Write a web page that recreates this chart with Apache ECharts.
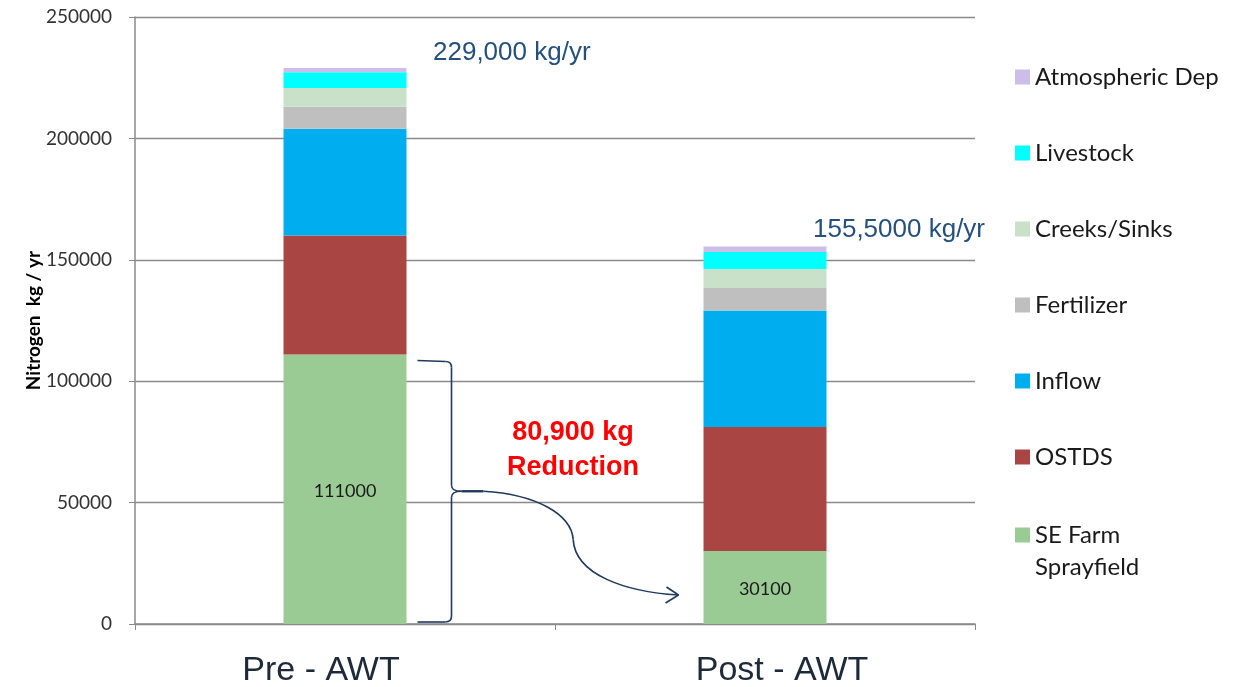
<!DOCTYPE html>
<html>
<head>
<meta charset="utf-8">
<title>Nitrogen loading, Pre- and Post-AWT</title>
<script src="https://cdn.jsdelivr.net/npm/echarts@6/dist/echarts.min.js"></script>
<style>
  html, body { margin: 0; padding: 0; background: #ffffff; }
  #chart { width: 1246px; height: 687px; }
</style>
</head>
<body>
<div id="chart"></div>
<script>
// Nitrogen sources (kg / yr), stacked bottom to top
const categories = ['Pre - AWT', 'Post - AWT'];
const seFarmSprayfield = [111000, 30100];
const ostds = [49000, 51000];
const inflow = [44000, 48000];
const fertilizer = [9000, 9300];
const creeksSinks = [7800, 7800];
const livestock = [6400, 7000];
const atmosphericDep = [1800, 2300];
const totalLabels = ['229,000 kg/yr', '155,5000 kg/yr'];
const reductionText = ['80,900 kg', 'Reduction'];
const yTicks = { min: 0, max: 250000, interval: 50000 };

const BAR_WIDTH = 123;
const GRID_COLOR = '#8a8a8a';
const NOTE_COLOR = '#1f3a5c';

const seriesDefs = [
  { name: 'SE Farm Sprayfield', data: seFarmSprayfield, color: '#9bcb95', label: true },
  { name: 'OSTDS', data: ostds, color: '#a94643' },
  { name: 'Inflow', data: inflow, color: '#00aeef' },
  { name: 'Fertilizer', data: fertilizer, color: '#bfbfbf' },
  { name: 'Creeks/Sinks', data: creeksSinks, color: '#c9e1c9' },
  { name: 'Livestock', data: livestock, color: '#00ffff' },
  { name: 'Atmospheric Dep', data: atmosphericDep, color: '#cdbde9' }
];

const chart = echarts.init(document.getElementById('chart'), null, { renderer: 'canvas' });

const legendText = { fontFamily: 'Lato', fontSize: 24, color: '#1a1a1a', lineHeight: 32 };
const legendBase = {
  orient: 'vertical',
  left: 1015,
  padding: 0,
  itemWidth: 15,
  itemHeight: 15,
  itemGap: 44,
  icon: 'rect',
  selectedMode: false
};
const legendNames = seriesDefs.slice().reverse().map(s => s.name);

const option = {
  animation: false,
  backgroundColor: '#ffffff',
  grid: { left: 135, right: 271, top: 17, bottom: 63, outerBoundsMode: 'none' },
  legend: [
    Object.assign({}, legendBase, {
      top: 61,
      data: legendNames.filter(n => n !== 'SE Farm Sprayfield'),
      textStyle: legendText
    }),
    // two-line entry; the leading empty line keeps the icon level with "SE Farm"
    Object.assign({}, legendBase, {
      top: 487,
      data: ['SE Farm Sprayfield'],
      formatter: () => '\nSE Farm\nSprayfield',
      textStyle: legendText
    })
  ],
  xAxis: {
    type: 'category',
    data: categories,
    axisLine: { show: true, lineStyle: { color: GRID_COLOR, width: 1.5 } },
    axisTick: { show: true, length: 6, lineStyle: { color: GRID_COLOR } },
    axisLabel: {
      margin: 30,
      formatter: (value, index) => '{c' + index + '|' + value + '}',
      rich: {
        c0: { fontFamily: 'Liberation Sans', fontSize: 34, color: '#1e2a3a', padding: [0, 48, 0, 0] },
        c1: { fontFamily: 'Liberation Sans', fontSize: 34, color: '#1e2a3a', padding: [0, 0, 0, 34] }
      }
    }
  },
  yAxis: {
    type: 'value',
    min: yTicks.min,
    max: yTicks.max,
    interval: yTicks.interval,
    name: 'Nitrogen  kg / yr',
    nameLocation: 'middle',
    nameRotate: 90,
    nameGap: 92,
    nameMoveOverlap: false,
    nameTextStyle: { fontFamily: 'Lato', fontWeight: 'bold', fontSize: 19, color: '#000000' },
    axisLine: { show: true, lineStyle: { color: GRID_COLOR, width: 1.5 } },
    axisTick: { show: true, length: 6, lineStyle: { color: GRID_COLOR } },
    axisLabel: {
      fontFamily: 'Lato', fontSize: 19, color: '#333333', margin: 23,
      formatter: v => String(v)
    },
    splitLine: { show: true, lineStyle: { color: GRID_COLOR, width: 1.3 } }
  },
  series: seriesDefs.map(s => ({
    name: s.name,
    type: 'bar',
    stack: 'nitrogen',
    barWidth: BAR_WIDTH,
    data: s.data,
    itemStyle: { color: s.color },
    label: s.label
      ? { show: true, position: 'inside', offset: [0, 2], fontFamily: 'Lato', fontSize: 18, color: '#1a1a1a' }
      : { show: false }
  }))
};

chart.setOption(option);

// Annotations placed from axis coordinates
function px(cat, value) {
  return chart.convertToPixel({ seriesIndex: 0 }, [cat, value]);
}

const totals = categories.map((_, i) =>
  seriesDefs.reduce((sum, s) => sum + s.data[i], 0)
);

const graphics = [];

// Total labels above each stack
const totalOffsets = [[88, -15], [48, -17]];
totals.forEach((t, i) => {
  const p = px(i, t);
  graphics.push({
    type: 'text',
    x: p[0] + totalOffsets[i][0],
    y: p[1] + totalOffsets[i][1],
    style: {
      text: totalLabels[i],
      fill: '#25507e',
      fontFamily: 'Liberation Sans',
      fontSize: 26,
      align: 'left',
      verticalAlign: 'middle'
    }
  });
});

// Reduction note between the bars
const midX = (px(0, 0)[0] + px(1, 0)[0]) / 2;
const noteY = px(0, 80900)[1];
graphics.push({
  type: 'text',
  x: midX + 18,
  y: noteY + 22,
  style: {
    text: reductionText.join('\n'),
    fill: '#ff0000',
    fontFamily: 'Liberation Sans',
    fontWeight: 'bold',
    fontSize: 27,
    lineHeight: 35,
    align: 'center',
    verticalAlign: 'middle'
  }
});

// Curly brace alongside the Pre-AWT sprayfield segment
const preRight = px(0, 0)[0] + BAR_WIDTH / 2;
const x0 = preRight + 11;
const x1 = preRight + 45;
const xt = preRight + 55;
const yT = px(0, seFarmSprayfield[0])[1] + 6;
const yB = px(0, 0)[1] - 2;
const yM = (yT + yB) / 2;
const r = 6;
const strokeStyle = { stroke: NOTE_COLOR, lineWidth: 1.6, fill: null };

function line(a, b, c, d, w) {
  graphics.push({ type: 'line', shape: { x1: a, y1: b, x2: c, y2: d },
    style: Object.assign({}, strokeStyle, w ? { lineWidth: w } : {}) });
}
function quad(a, b, cx, cy, c, d) {
  graphics.push({ type: 'bezierCurve',
    shape: { x1: a, y1: b, x2: c, y2: d, cpx1: cx, cpy1: cy }, style: strokeStyle });
}
function cubic(a, b, c1x, c1y, c2x, c2y, c, d) {
  graphics.push({ type: 'bezierCurve',
    shape: { x1: a, y1: b, x2: c, y2: d, cpx1: c1x, cpy1: c1y, cpx2: c2x, cpy2: c2y },
    style: strokeStyle });
}

line(x0, yT, x1 - r, yT + 1);
quad(x1 - r, yT + 1, x1, yT + 1, x1, yT + r + 1);
line(x1, yT + r + 1, x1, yM - r);
quad(x1, yM - r, x1, yM, xt, yM);
quad(xt, yM, x1, yM, x1, yM + r);
line(x1, yM + r, x1, yB - r);
quad(x1, yB - r, x1, yB, x1 - r, yB);
line(x1 - r, yB, x0, yB);

// Curved arrow from the brace toward the Post-AWT stack
const postLeft = px(1, 0)[0] - BAR_WIDTH / 2;
const S = [xt + 22, yM];
const E = [postLeft - 25, px(1, 0)[1] - 29];
const dx = E[0] - S[0];
const dy = E[1] - S[1];
const M = [S[0] + 0.46 * dx, S[1] + 0.466 * dy];
line(xt, yM, S[0], S[1], 2.4);
cubic(S[0], S[1], S[0] + 0.27 * dx, S[1] + 0.03 * dy, S[0] + 0.45 * dx, S[1] + 0.22 * dy, M[0], M[1]);
cubic(M[0], M[1], M[0] + 0.01 * dx, M[1] + 0.34 * dy, E[0] - 0.27 * dx, E[1] - 0.03 * dy, E[0], E[1]);
line(E[0], E[1], E[0] - 12, E[1] - 8);
line(E[0], E[1], E[0] - 13, E[1] + 8);

chart.setOption({ graphic: graphics });
</script>
</body>
</html>
